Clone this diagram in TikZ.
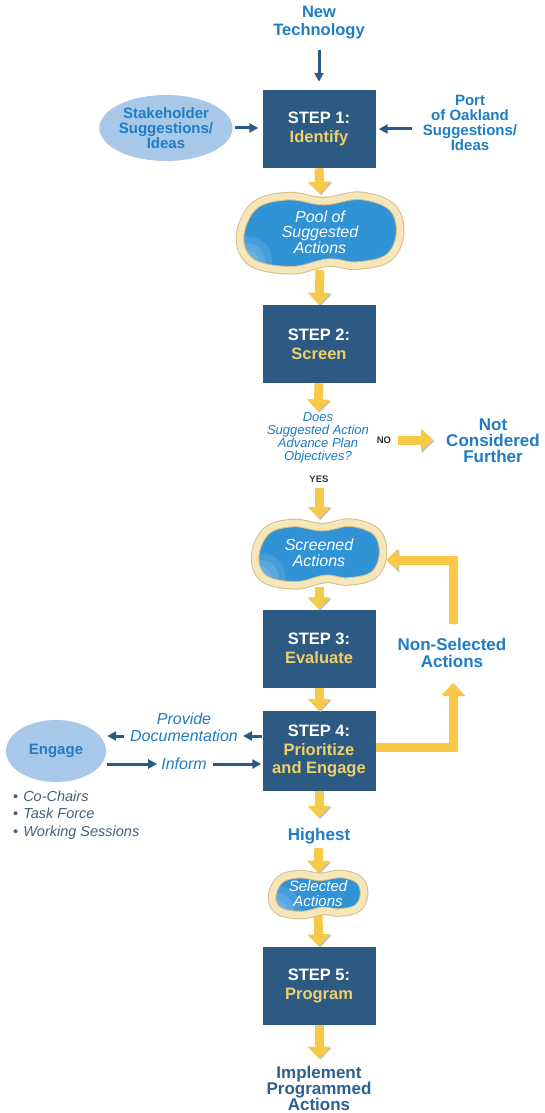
\documentclass[tikz,border=0pt]{standalone}
\usepackage{fontspec}
\setmainfont{Liberation Sans}
\usetikzlibrary{arrows.meta,shapes.geometric,calc}
\pgfdeclarelayer{bg}
\pgfsetlayers{bg,main}
\definecolor{boxblue}{HTML}{2C5A82}
\definecolor{stepyel}{HTML}{F0D06A}
\definecolor{arrowyel}{HTML}{F8C947}
\definecolor{tblue}{HTML}{1E7DC4}
\definecolor{ellblue}{HTML}{A8C8EA}
\definecolor{poolblue}{HTML}{2F93D6}
\definecolor{poolcream}{HTML}{F6E7BA}
\definecolor{pooltan}{HTML}{D6BE88}
\definecolor{bulletcol}{HTML}{44607E}
\definecolor{impblue}{HTML}{2E5F8E}
\definecolor{graytxt}{HTML}{333333}
\newcommand\fs[2]{\fontsize{#1}{#2}\selectfont}
\newcommand\kidplot{plot[smooth cycle, tension=0.62] coordinates {(-1,0.1) (-0.82,-0.72) (-0.4,-0.97) (0.05,-0.84) (0.5,-0.98) (0.9,-0.68) (1,0.02) (0.85,0.66) (0.45,0.86) (0.1,0.78) (-0.35,0.98) (-0.85,0.78)}}
\newcommand\kidney[4]{%
 \begin{scope}[shift={(#1,#2)},xscale=#3,yscale=#4]
  \fill[poolblue] \kidplot;
  \begin{scope}
   \clip \kidplot;
   \foreach \r in {24,17,10}{\fill[white,opacity=0.11] (-0.9,0.72) ellipse[x radius=\r/#3, y radius=\r/#4];}
  \end{scope}
  \draw[pooltan,line width=8.5pt] \kidplot;
  \draw[poolcream,line width=6.5pt] \kidplot;
 \end{scope}}
\begin{document}
\begin{tikzpicture}[x=1pt,y=-1pt,
  stepbox/.style={fill=boxblue, minimum width=113pt, minimum height=78pt, text=white, font=\fs{16.5}{19}\bfseries, align=center, inner sep=0pt},
  lbl/.style={text=tblue, align=center, inner sep=1pt},
  ell/.style={ellipse, fill=ellblue, text=tblue, align=center, inner sep=0pt},
  pooltxt/.style={text=white, font=\fs{16}{15.5}\itshape, align=center, inner sep=0pt},
  yarrow/.style={draw=arrowyel, line width=9pt, -{Triangle[width=22pt,length=12pt]},
     preaction={draw=black!25, transform canvas={xshift=1.2pt,yshift=-1.2pt}}},
  barrow/.style={draw=boxblue, line width=3pt, -{Triangle[width=9pt,length=9pt]}}]
\useasboundingbox (0,0) rectangle (544,1113);
\begin{pgfonlayer}{bg}
\fill[white] (0,0) rectangle (544,1113);
\end{pgfonlayer}

% top inputs
\node[lbl, font=\fs{16.5}{18}\bfseries] (nt) at (319,23) {New\\Technology};
\node[stepbox] (s1) at (319,129) {STEP 1:\\\textcolor{stepyel}{Identify}};
\node[ell, minimum width=108pt, minimum height=66pt, font=\fs{15}{15}\bfseries] (sh) at (166,128) {Stakeholder\\Suggestions/\\Ideas};
\node[lbl, font=\fs{15}{15}\bfseries] (po) at (470,123) {Port\\of Oakland\\Suggestions/\\Ideas};

% pool 1
\kidney{320}{233}{80}{38}
\node[pooltxt, minimum width=160pt, minimum height=76pt] (p1) at (320,232) {Pool of\\Suggested\\Actions};

\node[stepbox] (s2) at (319,344) {STEP 2:\\\textcolor{stepyel}{Screen}};
\node[lbl, font=\fs{13}{13}\itshape] (q) at (318,438) {Does\\Suggested Action\\Advance Plan\\Objectives?};
\node[text=graytxt, font=\fs{9.5}{10}\bfseries, inner sep=1pt] (no) at (384,440) {NO};
\node[lbl, font=\fs{17}{16}\bfseries] (ncf) at (493,441) {Not\\Considered\\Further};
\node[text=graytxt, font=\fs{9.5}{10}\bfseries, inner sep=1pt] (yes) at (319,479) {YES};

% pool 2
\kidney{319}{554}{64}{32}
\node[pooltxt, minimum width=134pt, minimum height=68pt] (p2) at (319,553) {Screened\\Actions};

\node[stepbox] (s3) at (319,648.5) {STEP 3:\\\textcolor{stepyel}{Evaluate}};
\node[lbl, font=\fs{17}{17}\bfseries] (ns) at (452,653) {Non-Selected\\Actions};

\node[stepbox, minimum height=80pt, font=\fs{16.5}{18.5}\bfseries] (s4) at (319,751) {STEP 4:\\\textcolor{stepyel}{Prioritize}\\\textcolor{stepyel}{and Engage}};
\node[ell, minimum width=100pt, minimum height=62pt, font=\fs{15}{15}\bfseries] (eng) at (56,751) {Engage};
\node[lbl, font=\fs{16}{17}\itshape] (pd) at (184,727) {Provide\\Documentation};
\node[lbl, font=\fs{16}{17}\itshape] (inf) at (184,764) {Inform};
\node[anchor=west, align=left, text=bulletcol, font=\fs{14.5}{17.5}\itshape, inner sep=0pt] (bl) at (13,815) {{\upshape\textbullet}\hspace{5pt}Co-Chairs\\{\upshape\textbullet}\hspace{5pt}Task Force\\{\upshape\textbullet}\hspace{5pt}Working Sessions};

\node[lbl, font=\fs{17}{17}\bfseries] (hi) at (319,836) {Highest};

% pool 3
\kidney{318}{894.5}{46}{21}
\node[pooltxt, minimum width=92pt, minimum height=42pt, font=\fs{15}{15}\itshape] (p3) at (318,894) {Selected\\Actions};

\node[stepbox] (s5) at (319,985.5) {STEP 5:\\\textcolor{stepyel}{Program}};
\node[lbl, text=impblue, font=\fs{17}{16}\bfseries] (imp) at (319,1088) {Implement\\Programmed\\Actions};

% dark blue arrows
\draw[barrow, shorten <=9pt, shorten >=8pt] (nt.south) -- (nt.south |- s1.north);
\draw[barrow, shorten <=2pt, shorten >=4pt] (sh.east) -- (sh.east -| s1.west);
\draw[barrow, shorten <=10pt, shorten >=3pt] (po.west |- s1.east) -- (s1.east);
\coordinate (pdy) at (0,736);
\coordinate (ify) at (0,764);
\draw[barrow, shorten >=4pt] (s4.west |- pdy) -- (pd.east |- pdy);
\draw[barrow, shorten <=5pt, shorten >=1pt] (pd.west |- pdy) -- (eng.east |- pdy);
\draw[barrow, shorten <=1pt, shorten >=3pt] (eng.east |- ify) -- (inf.west |- ify);
\draw[barrow, shorten <=5pt, shorten >=1pt] (inf.east |- ify) -- (s4.west |- ify);

% yellow arrows
\draw[yarrow] (s1.south) -- (p1.north);
\draw[yarrow] (s2.south) -- (q.north);
\draw[yarrow, shorten <=6pt, shorten >=12pt] (no.east) -- (ncf.west |- no.east);
\draw[yarrow, shorten <=4pt] (yes.south) -- (p2.north);
\draw[yarrow] (s3.south) -- (s4.north);
\draw[yarrow, shorten >=9pt] (s4.south) -- (hi.north);
\draw[yarrow, shorten <=3pt] (hi.south) -- (p3.north);
\draw[yarrow, shorten >=6pt] (s5.south) -- (imp.north);
\begin{pgfonlayer}{bg}
\draw[yarrow] (p1.south) -- (s2.north);
\draw[yarrow] (p2.south) -- (s3.north);
\draw[yarrow] (p3.south) -- (s5.north);
\end{pgfonlayer}
\coordinate (nsb) at (453,683);
\draw[yarrow] ([yshift=4pt]s4.east) -| (nsb);
\coordinate (nst) at (453,624);
\coordinate (fbt) at (453,560);
\draw[yarrow] (nst) -- (fbt) -- (fbt -| p2.east);
\end{tikzpicture}
\end{document}
